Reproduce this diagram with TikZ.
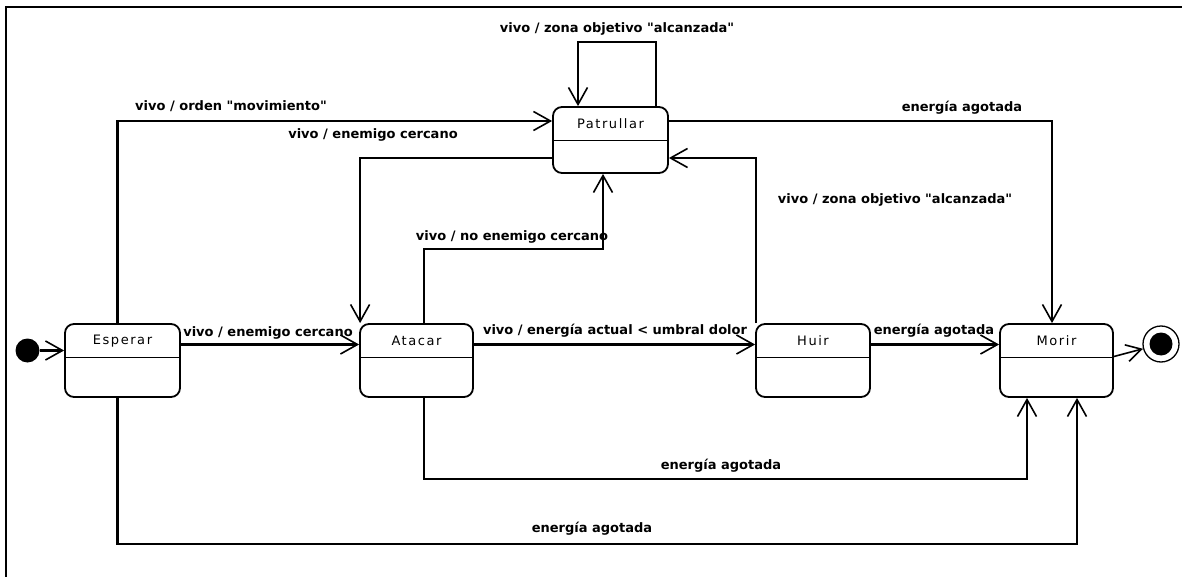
\documentclass[tikz,border=0pt]{standalone}
\usepackage{fontspec}
\setmainfont{DejaVu Sans}[Ligatures=TeXOff]
\newfontfamily\statefont[LetterSpace=12,Ligatures=TeXOff]{DejaVu Sans}
\usetikzlibrary{arrows.meta,calc}

\begin{document}
\begin{tikzpicture}[x=1pt,y=-1pt,
  frame/.style={line width=2pt},
  edge/.style={line width=2.4pt, line join=miter,
    -{Straight Barb[length=17pt,width=19pt,line width=1.6pt]}},
  thinedge/.style={line width=1.6pt,
    -{Straight Barb[length=15pt,width=17pt,line width=1.6pt]}},
  statebox/.style={draw, line width=1.8pt, rounded corners=9pt,
    minimum height=73pt, inner sep=0pt},
  divider/.style={line width=1pt},
  sname/.style={font=\statefont\fontsize{13}{13}\selectfont, inner sep=0pt},
  lbl/.style={font=\bfseries\fontsize{13}{13}\selectfont, inner sep=0pt},
]
\useasboundingbox (0,0) rectangle (1182,577);

% enclosing frame
\draw[frame] (6,577) -- (6,7) -- (1182,7);

% states
\node[statebox, minimum width=115pt] (esp) at (122.5,360.5) {};
\node[statebox, minimum width=113pt] (ata) at (416.5,360.5) {};
\node[statebox, minimum width=114pt] (hui) at (813,360.5) {};
\node[statebox, minimum width=113pt] (mor) at (1056.5,360.5) {};
\node[statebox, minimum width=115pt, minimum height=66pt] (pat) at (610.5,140) {};

% compartment dividers
\foreach \s in {esp,ata,hui,mor,pat}
  \draw[divider] ([yshift=-34pt]\s.north west) -- ([yshift=-34pt]\s.north east);

% state names
\node[sname] (esp-name) at ($(esp.north)+(0,18)$) {Esperar};
\node[sname] (ata-name) at ($(ata.north)+(0,18)$) {Atacar};
\node[sname] (hui-name) at ($(hui.north)+(0,18)$) {Huir};
\node[sname] (mor-name) at ($(mor.north)+(0,18)$) {Morir};
\node[sname] (pat-name) at ($(pat.north)+(0,18)$) {Patrullar};

% pseudo states
\node[fill, circle, minimum size=24pt, inner sep=0pt] (init) at (27.5,350.5) {};
\node[draw, circle, line width=1.3pt, minimum size=36pt, inner sep=0pt] (final) at (1161,344) {};
\node[fill, circle, minimum size=23pt, inner sep=0pt] (final-dot) at (final) {};

% transitions
\draw[edge] (init) -- (init -| esp.west);
\draw[edge] ([xshift=-5pt]esp.north) |- ([yshift=19pt]pat.west);
\draw[edge] ([yshift=-18pt]pat.west) -| ([xshift=1pt]ata.north west);
\draw[edge] ([xshift=7.5pt]ata.north) -- ++(0,-74) -| ([xshift=-7.5pt]pat.south);
\draw[edge] ([xshift=1pt]hui.north west) |- ([yshift=-18pt]pat.east);
\draw[edge] ([yshift=19pt]pat.east) -| ([xshift=-4.5pt]mor.north);
\draw[edge] ([xshift=45.5pt]pat.north) -- ++(0,-64) -| ([xshift=-32.5pt]pat.north);
\draw[edge] ([yshift=16pt]esp.east) -- ([yshift=16pt]ata.west);
\draw[edge] ([yshift=16pt]ata.east) -- ([yshift=16pt]hui.west);
\draw[edge] ([yshift=16pt]hui.east) -- ([yshift=16pt]mor.west);
\draw[edge] ([xshift=7.5pt]ata.south) -- ++(0,81) -| ([xshift=-29.5pt]mor.south);
\draw[edge] ([xshift=-5pt]esp.south) -- ++(0,146) -| ([xshift=20.5pt]mor.south);
\draw[thinedge] ([yshift=4pt]mor.east) -- (final);

% transition labels
\node[lbl] (l-loop) at (617,29) {vivo / zona objetivo "alcanzada"};
\node[lbl] (l-orden) at (231,106) {vivo / orden "movimiento"};
\node[lbl] (l-cerca1) at (373,135) {vivo / enemigo cercano};
\node[lbl] (l-agot1) at (962,108) {energía agotada};
\node[lbl] (l-zona) at (895,200) {vivo / zona objetivo "alcanzada"};
\node[lbl] (l-noen) at (512,237) {vivo / no enemigo cercano};
\node[lbl] (l-cerca2) at (268,333) {vivo / enemigo cercano};
\node[lbl] (l-dolor) at (615,331) {vivo / energía actual < umbral dolor};
\node[lbl] (l-agot2) at (934,331) {energía agotada};
\node[lbl] (l-agot3) at (721,466) {energía agotada};
\node[lbl] (l-agot4) at (592,529) {energía agotada};
\end{tikzpicture}
\end{document}
